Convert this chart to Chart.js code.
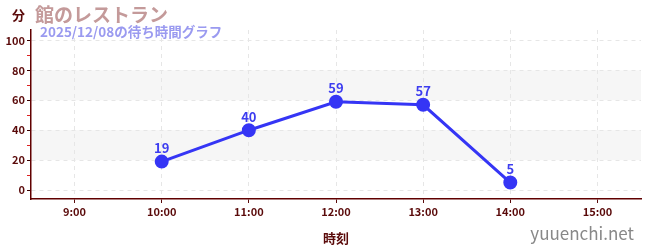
<!DOCTYPE html>
<html><head><meta charset="utf-8">
<script src="https://cdn.jsdelivr.net/npm/chart.js@4/dist/chart.umd.min.js"></script>
<style>
html,body{margin:0;padding:0;background:#fff;}
#wrap{position:relative;width:650px;height:250px;font-family:"Noto Sans CJK JP","Noto Sans",sans-serif;}
canvas{position:absolute;left:0;top:0;}
.t{position:absolute;white-space:nowrap;font-weight:bold;}
</style></head>
<body>
<div id="wrap">
<canvas id="c" width="650" height="250"></canvas>
<div class="t" style="left:12px;top:5px;font-size:13px;color:#5a0a0a;">分</div>
<div class="t" style="left:35px;top:0px;font-size:19px;color:#c49a9a;">館のレストラン</div>
<div class="t" style="left:40px;top:21px;font-size:13.5px;color:#9a9af0;">2025/12/08の待ち時間グラフ</div>
<div class="t" style="right:16px;top:220px;font-size:17px;color:#888;font-weight:normal;">yuuenchi.net</div>
</div>
<script>
const hours = [10, 11, 12, 13, 14];
const waits = [19, 40, 59, 57, 5];
const xTickHours = [9, 10, 11, 12, 13, 14, 15];
const yMajor = [0, 20, 40, 60, 80, 100];
const bands = [[20, 40], [60, 80]];

const bandPlugin = {
  id: 'bands',
  beforeDraw(chart) {
    const {ctx, chartArea, scales} = chart;
    ctx.save();
    ctx.fillStyle = '#f6f6f6';
    bands.forEach(([a, b]) => {
      const y1 = scales.y.getPixelForValue(b), y2 = scales.y.getPixelForValue(a);
      ctx.fillRect(chartArea.left, y1, chartArea.right - chartArea.left, y2 - y1);
    });
    ctx.restore();
  }
};
const labelPlugin = {
  id: 'vlabels',
  afterDatasetsDraw(chart) {
    const {ctx} = chart;
    const meta = chart.getDatasetMeta(0);
    ctx.save();
    ctx.fillStyle = '#3d3df0';
    ctx.font = 'bold 13px "Noto Sans CJK JP", "Noto Sans", sans-serif';
    ctx.textAlign = 'center';
    ctx.textBaseline = 'bottom';
    meta.data.forEach((p, i) => {
      ctx.fillText(String(waits[i]), p.x, p.y - 7);
    });
    ctx.restore();
  }
};

new Chart(document.getElementById('c'), {
  type: 'line',
  data: {
    datasets: [{
      data: hours.map((h, i) => ({x: h, y: waits[i]})),
      borderColor: '#3535f5',
      backgroundColor: '#3535f5',
      borderWidth: 3,
      pointRadius: 5.5,
      pointHoverRadius: 5.5,
      tension: 0
    }]
  },
  options: {
    responsive: false,
    animation: false,
    events: [],
    layout: {padding: {top: 30, right: 9, left: 0, bottom: 0}},
    plugins: {legend: {display: false}, tooltip: {enabled: false}},
    scales: {
      x: {
        type: 'linear', min: 8.5, max: 15.5,
        afterBuildTicks(s) { s.ticks = xTickHours.map(v => ({value: v})); },
        afterFit(s) { s.height = 51; },
        ticks: {
          callback: v => v + ':00',
          color: '#5a0a0a',
          font: {family: '"Noto Sans CJK JP"', size: 11, weight: 'bold'},
          padding: 2, maxRotation: 0, autoSkip: false
        },
        grid: {color: '#e6e6e6', tickColor: '#5a0a0a', tickLength: 4, drawTicks: true},
        border: {color: '#600000', width: 1.5, dash: [4, 4]},
        title: {display: true, text: '時刻', color: '#5a0a0a',
          font: {family: '"Noto Sans CJK JP"', size: 13, weight: 'bold'}, padding: {top: 6}}
      },
      y: {
        type: 'linear', min: -6, max: 107,
        afterBuildTicks(s) {
          const t = [];
          for (let v = 0; v <= 100; v += 10) t.push({value: v});
          s.ticks = t;
        },
        afterFit(s) { s.width = 31; },
        ticks: {
          callback: v => (yMajor.includes(v) ? String(v) : ''),
          color: '#5a0a0a',
          font: {family: '"Noto Sans CJK JP"', size: 11, weight: 'bold'},
          padding: 2, autoSkip: false
        },
        grid: {
          color: c => (yMajor.includes(c.tick.value) ? '#e6e6e6' : 'transparent'),
          tickColor: c => (yMajor.includes(c.tick.value) ? '#3a0000' : '#dd2020'),
          tickLength: 4
        },
        border: {color: '#600000', width: 1.5, dash: [4, 4]}
      }
    }
  },
  plugins: [bandPlugin, labelPlugin]
});
</script>
</body></html>
